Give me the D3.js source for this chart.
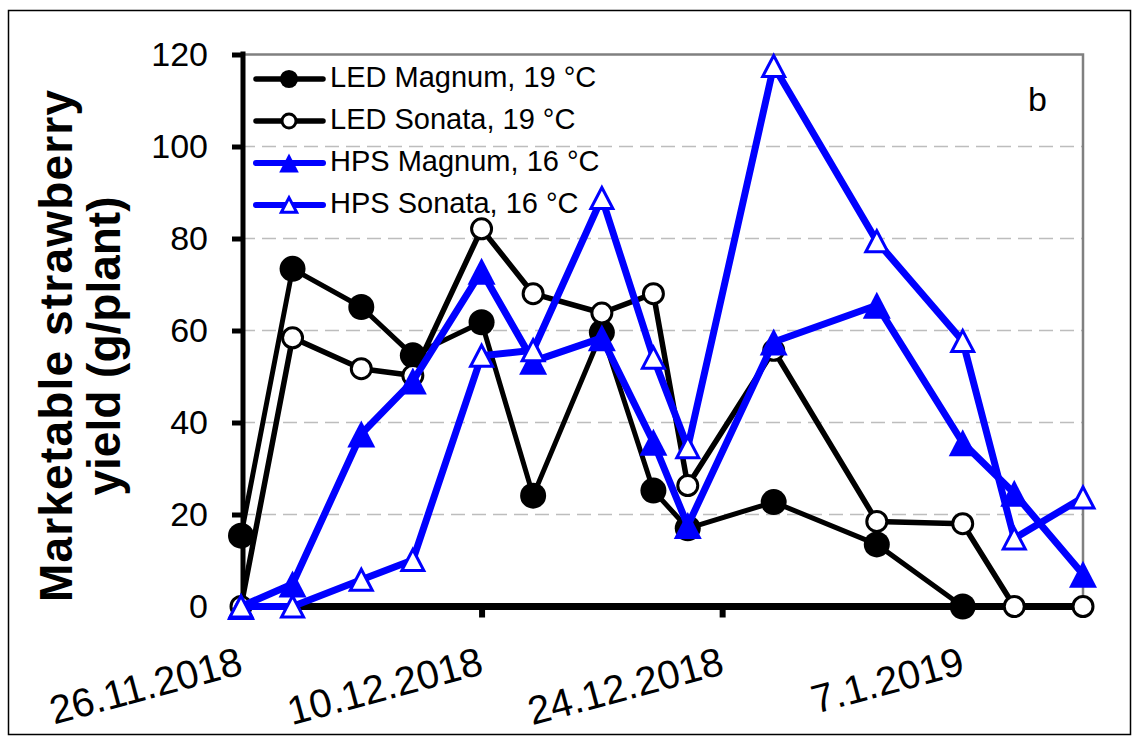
<!DOCTYPE html>
<html><head><meta charset="utf-8">
<script src="https://cdn.jsdelivr.net/npm/d3@7"></script>
<style>
html,body{margin:0;padding:0;background:#fff;}
svg{display:block;font-family:"Liberation Sans",Arial,sans-serif;}
</style></head>
<body><svg id="chart" width="1138" height="740"></svg>
<script>
const dates = ["2018-11-26","2018-11-29","2018-12-03","2018-12-06","2018-12-10","2018-12-13","2018-12-17","2018-12-20","2018-12-22","2018-12-27","2019-01-02","2019-01-07","2019-01-10","2019-01-14"];
const ledMagnum = [15.4, 73.4, 65.1, 54.6, 61.8, 24.1, 59.6, 25.2, 17.0, 22.7, 13.5, 0];
const ledSonata = [0, 58.4, 51.7, 50.2, 82.1, 68.0, 63.8, 68.0, 26.3, 55.7, 18.5, 18.0, 0, 0];
const hpsMagnum = [0, 4.9, 37.5, 49.0, 72.9, 53.3, 58.4, 35.7, 17.6, 57.5, 65.5, 35.6, 24.6, 7.0];
const hpsSonata = [0, 0, 5.8, 10.1, 54.5, 55.7, 88.8, 54.1, 34.6, 117.5, 79.4, 57.7, 14.8, 23.7];
const seriesNames = ["LED Magnum, 19 °C", "LED Sonata, 19 °C", "HPS Magnum, 16 °C", "HPS Sonata, 16 °C"];
const xTickDates = ["2018-11-26","2018-12-10","2018-12-24","2019-01-07"];
const xTickLabels = ["26.11.2018","10.12.2018","24.12.2018","7.1.2019"];
const yTicks = [0, 20, 40, 60, 80, 100, 120];
const yTitle = ["Marketable strawberry", "yield (g/plant)"];
const panelLabel = "b";

const parse = d3.timeParse("%Y-%m-%d");
const svg = d3.select("#chart");
const L = 241, R = 1083, T = 54.5, B = 606.5;
const x = d3.scaleTime().domain([parse("2018-11-26"), parse("2019-01-14")]).range([L, R]);
const y = d3.scaleLinear().domain([0, 120]).range([B, T]);

// outer frame
svg.append("rect").attr("x", 8.5).attr("y", 10.5).attr("width", 1122).attr("height", 724)
  .attr("fill", "none").attr("stroke", "#000").attr("stroke-width", 1.5);

// gridlines
svg.append("g").selectAll("line").data(yTicks.filter(v => v > 0 && v < 120)).join("line")
  .attr("x1", L).attr("x2", R).attr("y1", d => y(d)).attr("y2", d => y(d))
  .attr("stroke", "#bdbdbd").attr("stroke-width", 1.5).attr("stroke-dasharray", "14,7");

// top & right plot border (gray)
svg.append("path").attr("d", `M${L},${y(120)}H${R}V${B}`).attr("fill", "none")
  .attr("stroke", "#808080").attr("stroke-width", 2.5);

// y axis
const yAxis = svg.append("g").attr("transform", `translate(${L + 2},0)`)
  .call(d3.axisLeft(y).tickValues(yTicks).tickSize(11).tickPadding(24).tickFormat(d3.format("d")));
yAxis.select(".domain").attr("stroke", "#000").attr("stroke-width", 5).attr("d", `M0,${y(120) - 3}V${B}`);
yAxis.selectAll(".tick line").attr("stroke", "#000").attr("stroke-width", 5);
yAxis.selectAll(".tick text").attr("font-size", 34).attr("fill", "#000")
  .attr("font-family", "'Liberation Sans',Arial,sans-serif");

// x axis
const xAxis = svg.append("g").attr("transform", `translate(0,${B})`)
  .call(d3.axisBottom(x).tickValues(xTickDates.map(parse)).tickSize(11).tickFormat((d, i) => xTickLabels[i]));
xAxis.select(".domain").attr("stroke", "#000").attr("stroke-width", 7).attr("d", `M${L},0H${R}`);
xAxis.selectAll(".tick line").attr("stroke", "#000").attr("stroke-width", 6).attr("y1", 3);
xAxis.selectAll(".tick text").attr("font-size", 40).attr("fill", "#000")
  .attr("font-family", "'Liberation Sans',Arial,sans-serif")
  .attr("text-anchor", "end").attr("dy", null).attr("y", 0)
  .attr("transform", "translate(3,67) rotate(-15)");

// y title
const yt = svg.append("text").attr("transform", "translate(72,346) rotate(-90)")
  .attr("text-anchor", "middle").attr("font-weight", "bold").attr("font-size", 46).attr("fill", "#000");
yt.append("tspan").attr("x", 0).attr("y", 0).attr("textLength", 512).attr("lengthAdjust", "spacing").text(yTitle[0]);
yt.append("tspan").attr("x", 0).attr("y", 48).text(yTitle[1]);

// series
const series = [
  {name: seriesNames[0], values: ledMagnum, color: "#000", width: 5, marker: "circle", filled: true},
  {name: seriesNames[1], values: ledSonata, color: "#000", width: 5.5, marker: "circle", filled: false},
  {name: seriesNames[2], values: hpsMagnum, color: "#0000ff", width: 7, marker: "triangle", filled: true},
  {name: seriesNames[3], values: hpsSonata, color: "#0000ff", width: 7, marker: "triangle", filled: false}
];
const line = d3.line().x(d => x(d.date)).y(d => y(d.v));

function drawMarker(g, s, cx, cy, scale) {
  if (s.marker === "circle") {
    if (s.filled) {
      g.append("circle").attr("cx", cx).attr("cy", cy).attr("r", 13 * scale).attr("fill", s.color);
    } else {
      g.append("circle").attr("cx", cx).attr("cy", cy).attr("r", 10 * scale)
        .attr("fill", "#fff").attr("stroke", s.color).attr("stroke-width", 3);
    }
  } else {
    if (s.filled) {
      const w = 28 * scale, h = 27 * scale;
      g.append("path").attr("d", `M${cx},${cy - h / 2}L${cx + w / 2},${cy + h / 2}L${cx - w / 2},${cy + h / 2}Z`)
        .attr("fill", s.color);
    } else {
      const w = 22 * scale, h = 21 * scale;
      g.append("path").attr("d", `M${cx},${cy - h / 2}L${cx + w / 2},${cy + h / 2}L${cx - w / 2},${cy + h / 2}Z`)
        .attr("fill", "#fff").attr("stroke", s.color).attr("stroke-width", 3).attr("stroke-linejoin", "miter");
    }
  }
}

series.forEach(s => {
  const pts = s.values.map((v, i) => ({date: parse(dates[i]), v}));
  const g = svg.append("g");
  g.append("path").datum(pts).attr("d", line).attr("fill", "none")
    .attr("stroke", s.color).attr("stroke-width", s.width).attr("stroke-linejoin", "round");
  pts.forEach(p => drawMarker(g, s, x(p.date), y(p.v), 1));
});

// legend
const lg = svg.append("g");
const legY = [79, 121, 163, 205];
series.forEach((s, i) => {
  lg.append("line").attr("x1", 256).attr("x2", 323).attr("y1", legY[i]).attr("y2", legY[i])
    .attr("stroke", s.color).attr("stroke-width", s.color === "#000" ? 5.5 : 6).attr("stroke-linecap", "round");
  drawMarker(lg, s, 289, legY[i], 0.7);
  lg.append("text").attr("x", 330).attr("y", legY[i] + 8).attr("font-size", 29).attr("fill", "#000").text(s.name);
});

svg.append("text").attr("x", 1028).attr("y", 111).attr("font-size", 34).attr("fill", "#000").text(panelLabel);
</script></body></html>
